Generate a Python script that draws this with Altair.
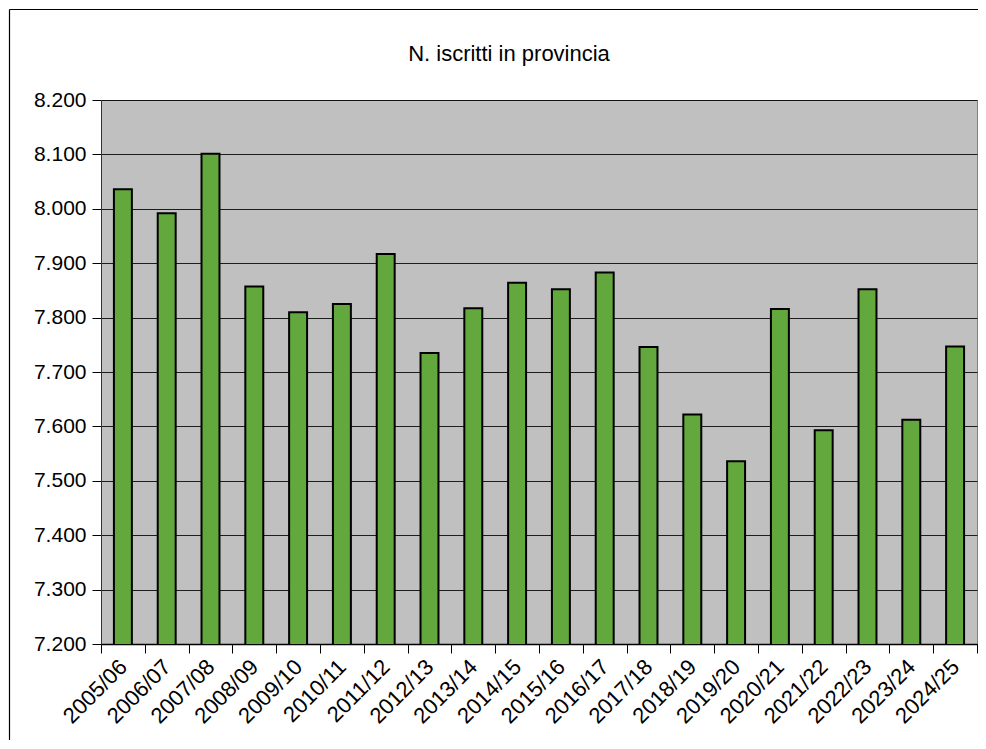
import altair as alt
import pandas as pd

anni = ["2005/06", "2006/07", "2007/08", "2008/09", "2009/10", "2010/11",
        "2011/12", "2012/13", "2013/14", "2014/15", "2015/16", "2016/17",
        "2017/18", "2018/19", "2019/20", "2020/21", "2021/22", "2022/23",
        "2023/24", "2024/25"]
iscritti = [8036, 7992, 8101, 7857, 7810, 7825, 7917, 7735, 7817, 7864,
            7852, 7883, 7746, 7622, 7536, 7816, 7593, 7852, 7612, 7747]
titolo = "N. iscritti in provincia"

df = pd.DataFrame({"anno": anni, "iscritti": iscritti})
FONT = "Liberation Sans"

bars = alt.Chart(df).mark_bar(
    width=alt.RelativeBandSize(0.41),
    color="#62A83C",
    stroke="#000000",
    strokeWidth=2,
    clip=True,
).encode(
    x=alt.X("anno:N", sort=anni, title=None,
            scale=alt.Scale(paddingInner=0, paddingOuter=0),
            axis=alt.Axis(tickBand="extent", labelAngle=-45, labelAlign="right",
                          labelBaseline="middle", labelPadding=10,
                          labelFont=FONT, labelFontSize=22, labelColor="#000000",
                          domainColor="#000000", domainWidth=1.5,
                          tickColor="#000000", tickSize=9, grid=False)),
    y=alt.Y("iscritti:Q", title=None,
            scale=alt.Scale(domain=[7200, 8200], nice=False, zero=False),
            axis=alt.Axis(values=list(range(7200, 8201, 100)),
                          labelExpr="replace(format(datum.value, ','), ',', '.')",
                          labelFont=FONT, labelFontSize=21, labelColor="#000000",
                          labelPadding=6,
                          domainColor="#333333", tickColor="#000000", tickSize=9,
                          gridColor="#000000", gridWidth=1, gridOpacity=0.85)),
)

titolo_df = pd.DataFrame({"t": [titolo]})
title_mark = alt.Chart(titolo_df).mark_text(
    font=FONT, fontSize=22, color="#000000", align="center",
    baseline="alphabetic", clip=False
).encode(text="t:N", x=alt.value(408), y=alt.value(-39))

frame_df = pd.DataFrame({"k": [1]})
frame_top = alt.Chart(frame_df).mark_rule(color="#000000", strokeWidth=1.2, clip=False).encode(
    x=alt.value(-91.5), x2=alt.value(1400), y=alt.value(-90.5))
frame_left = alt.Chart(frame_df).mark_rule(color="#000000", strokeWidth=1.2, clip=False).encode(
    x=alt.value(-91.5), y=alt.value(-90.5), y2=alt.value(1400))

chart = alt.layer(frame_top, frame_left, title_mark, bars).properties(
    width=876,
    height=544,
    autosize=alt.AutoSizeParams(type="none"),
    padding={"left": 93, "top": 92, "right": 1, "bottom": 96},
    view=alt.ViewBackground(fill="#C0C0C0", stroke="#808080", strokeWidth=1),
).configure(background="#FFFFFF")

chart.save("out.html", embed_options={"renderer": "svg", "actions": False})
